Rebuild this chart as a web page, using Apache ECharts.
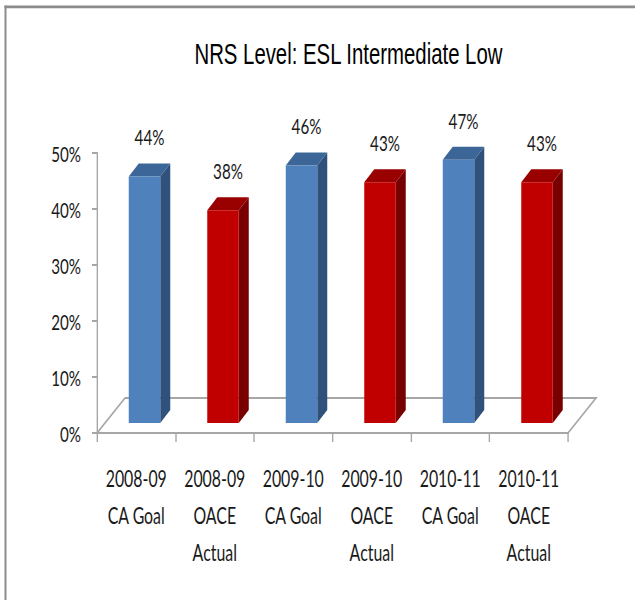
<!DOCTYPE html>
<html>
<head>
<meta charset="utf-8">
<script src="https://cdn.jsdelivr.net/npm/echarts@6/dist/echarts.min.js"></script>
<style>
  html, body { margin: 0; padding: 0; background: #fff; overflow: hidden; }
  #wrap { width: 635px; height: 600px; overflow: hidden; position: relative; }
  #chart { width: 920px; height: 600px; transform: scaleX(0.69022); transform-origin: 0 0; }
</style>
</head>
<body>
<div id="wrap"><div id="chart"></div></div>
<script>
// ---- data ----
const titleText = 'NRS Level: ESL Intermediate Low';
const categories = [
  '2008-09\nCA Goal',
  '2008-09\nOACE\nActual',
  '2009-10\nCA Goal',
  '2009-10\nOACE\nActual',
  '2010-11\nCA Goal',
  '2010-11\nOACE\nActual'
];
const values = [44, 38, 46, 43, 47, 43];
const yTicks = [0, 10, 20, 30, 40, 50];

// ---- style ----
const K = 635 / 920;               // horizontal squeeze of the page
const ref = v => v / K;            // convert reference px (horizontal) to chart px
const palettes = [
  { front: '#4F81BD', top: '#3C6697', side: '#30517C' },
  { front: '#C00000', top: '#990000', side: '#780000' }
];
const barOff = ref(8.25), barHalf = ref(15.75);
const frontDy = -10, depthDx = ref(10), depthDy = -13;
const floorDx = ref(28), floorDy = -35;
const gray = '#a6a6a6';

const chart = echarts.init(document.getElementById('chart'), null, { renderer: 'svg' });

chart.setOption({
  backgroundColor: '#ffffff',
  animation: false,
  title: {
    text: titleText,
    left: ref(191),
    top: 34,
    textStyle: {
      fontFamily: "'Liberation Sans', Arial, sans-serif",
      fontWeight: 'normal',
      fontSize: 29.5,
      color: '#000'
    }
  },
  graphic: [
    { type: 'rect', shape: { x: ref(4.5), y: 5.5, width: ref(2), height: 600 }, style: { fill: '#8c8c8c' }, z: 100 },
    { type: 'rect', shape: { x: ref(4.5), y: 5.6, width: 920, height: 2.6 }, style: { fill: '#8c8c8c' }, z: 100 }
  ],
  grid: { left: ref(97), right: 920 - ref(568), top: 153, bottom: 167, containLabel: false },
  xAxis: {
    type: 'category',
    data: categories,
    axisLine: { show: true, lineStyle: { color: gray, width: 2 } },
    axisTick: { show: true, length: 9, lineStyle: { color: gray, width: 2 } },
    axisLabel: {
      interval: 0,
      margin: 26,
      fontSize: 23,
      lineHeight: 37,
      color: '#1a1a1a',
      fontFamily: "Lato, 'Liberation Sans', sans-serif"
    }
  },
  yAxis: {
    type: 'value',
    min: 0,
    max: 50,
    interval: 10,
    axisLine: { show: true, lineStyle: { color: gray, width: 2 } },
    axisTick: { show: true, length: ref(5), lineStyle: { color: gray, width: 2 } },
    splitLine: { show: false },
    axisLabel: {
      formatter: v => yTicks.indexOf(v) >= 0 ? v + '%' : '',
      margin: ref(16),
      fontSize: 22,
      color: '#1a1a1a',
      padding: [6, 0, 0, 0],
      fontFamily: "Lato, 'Liberation Sans', sans-serif"
    }
  },
  series: [
    {
      type: 'custom',
      name: 'floor',
      silent: true,
      z: 1,
      data: [[0]],
      renderItem: function (params, api) {
        const bw = api.size([1, 0])[0];
        const p0 = api.coord([0, 0]);
        const p1 = api.coord([categories.length - 1, 0]);
        const l = p0[0] - bw / 2, r = p1[0] + bw / 2, y = p0[1];
        return {
          type: 'polygon',
          shape: { points: [[l, y], [r, y], [r + floorDx, y + floorDy], [l + floorDx, y + floorDy]] },
          style: { fill: '#ffffff', stroke: gray, lineWidth: 2 }
        };
      }
    },
    {
      type: 'custom',
      name: 'values',
      z: 3,
      data: values.map((v, i) => [i, v]),
      encode: { x: 0, y: 1 },
      renderItem: function (params, api) {
        const i = api.value(0), v = api.value(1);
        const top = api.coord([i, v]);
        const base = api.coord([i, 0]);
        const pal = palettes[i % 2];
        const cx = base[0] + barOff;
        const xl = cx - barHalf, xr = cx + barHalf;
        const yt = top[1] + frontDy, yb = base[1] + frontDy;
        return {
          type: 'group',
          children: [
            { type: 'polygon', shape: { points: [[xr, yt], [xr + depthDx, yt + depthDy], [xr + depthDx, yb + depthDy], [xr, yb]] }, style: { fill: pal.side } },
            { type: 'polygon', shape: { points: [[xl, yt], [xl + depthDx, yt + depthDy], [xr + depthDx, yt + depthDy], [xr, yt]] }, style: { fill: pal.top } },
            { type: 'rect', shape: { x: xl, y: yt, width: xr - xl, height: yb - yt }, style: { fill: pal.front } },
            { type: 'text', x: cx + depthDx / 2, y: yt - 40, style: {
                text: v + '%', fontSize: 22, fill: '#1a1a1a', align: 'center', verticalAlign: 'middle',
                fontFamily: "Lato, 'Liberation Sans', sans-serif" } }
          ]
        };
      }
    }
  ]
});
</script>
</body>
</html>
